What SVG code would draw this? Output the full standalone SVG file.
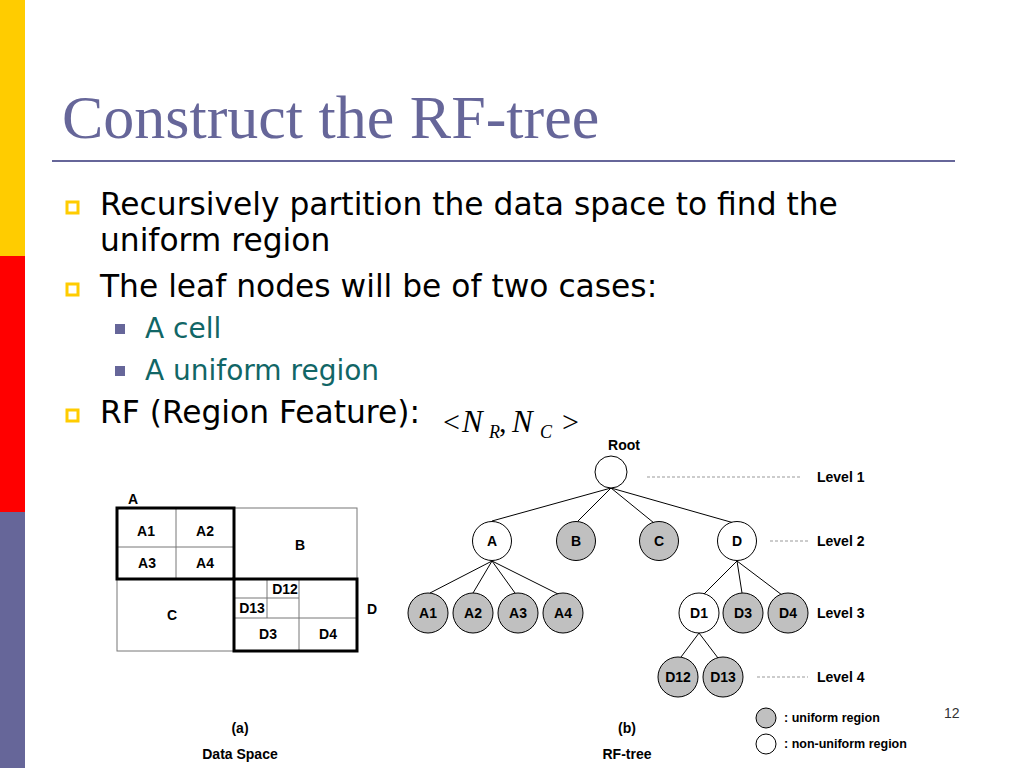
<svg xmlns="http://www.w3.org/2000/svg" width="1024" height="768" viewBox="0 0 1024 768">
<defs>
<style>
.lbl{font-family:"Liberation Sans",Arial,sans-serif;font-weight:bold;font-size:14px;fill:#000;text-anchor:middle}
.lvl{font-family:"Liberation Sans",Arial,sans-serif;font-weight:bold;font-size:14px;fill:#000}
.leg{font-family:"Liberation Sans",Arial,sans-serif;font-weight:bold;font-size:12.5px;fill:#000}
.body{font-family:"DejaVu Sans",Verdana,sans-serif;font-size:31.3px;fill:#000}
.sub{font-family:"DejaVu Sans",Verdana,sans-serif;font-size:28px;fill:#116666}
.mi{font-family:"Liberation Serif","Times New Roman",serif;font-style:italic;font-size:31px;fill:#000}
.mr{font-family:"Liberation Serif","Times New Roman",serif;font-size:30px;fill:#000}
.ms{font-family:"Liberation Serif","Times New Roman",serif;font-style:italic;font-size:18px;fill:#000}
.uni{fill:#c0c0c0;stroke:#000;stroke-width:1}
.non{fill:#fff;stroke:#000;stroke-width:1}
.thin{fill:none;stroke:#777;stroke-width:1}
.bold{fill:none;stroke:#000;stroke-width:3}
.dash{stroke:#999;stroke-width:1;stroke-dasharray:3,2}
.edge{stroke:#000;stroke-width:1}
.box{fill:none;stroke:#ffcc00;stroke-width:3}
</style>
</defs>
<rect width="1024" height="768" fill="#fff"/>
<rect x="0" y="0" width="25" height="256" fill="#ffcc00"/>
<rect x="0" y="256" width="25" height="256" fill="#ff0000"/>
<rect x="0" y="512" width="25" height="256" fill="#666699"/>

<text x="62" y="138" font-family="Liberation Serif,'Times New Roman',serif" font-size="62" fill="#666699">Construct the RF-tree</text>
<line x1="52" y1="161" x2="955" y2="161" stroke="#666699" stroke-width="2"/>

<rect x="67" y="202" width="11" height="11" class="box"/>
<text x="100" y="215" class="body">Recursively partition the data space to find the</text>
<text x="100" y="251" class="body">uniform region</text>
<rect x="67" y="284" width="11" height="11" class="box"/>
<text x="100" y="297" class="body">The leaf nodes will be of two cases:</text>
<rect x="115" y="324" width="10" height="10" fill="#666699"/>
<text x="145" y="338" class="sub">A cell</text>
<rect x="115" y="366" width="10" height="10" fill="#666699"/>
<text x="145" y="380" class="sub">A uniform region</text>
<rect x="67" y="410" width="11" height="11" class="box"/>
<text x="100" y="423" class="body">RF (Region Feature):</text>
<g id="rf-formula">
<text x="443" y="432" class="mr">&lt;</text>
<text x="462" y="432" class="mi">N</text>
<text x="489" y="438" class="ms">R</text>
<text x="499" y="432" class="mr">,</text>
<text x="512" y="432" class="mi">N</text>
<text x="540" y="438" class="ms">C</text>
<text x="562" y="432" class="mr">&gt;</text>
</g>

<g id="data-space">
<rect x="117" y="508" width="240" height="143" class="thin"/>
<line x1="176" y1="508" x2="176" y2="579" class="thin"/>
<line x1="117" y1="547" x2="234" y2="547" class="thin"/>
<line x1="299" y1="579" x2="299" y2="651" class="thin"/>
<line x1="234" y1="618" x2="357" y2="618" class="thin"/>
<line x1="267" y1="579" x2="267" y2="618" class="thin"/>
<line x1="234" y1="598" x2="299" y2="598" class="thin"/>
<rect x="117" y="508" width="117" height="71" class="bold"/>
<rect x="234" y="579" width="123" height="72" class="bold"/>
<text x="133" y="504" class="lbl">A</text>
<text x="146" y="536" class="lbl">A1</text>
<text x="205" y="536" class="lbl">A2</text>
<text x="147" y="568" class="lbl">A3</text>
<text x="205" y="568" class="lbl">A4</text>
<text x="300" y="550" class="lbl">B</text>
<text x="172" y="620" class="lbl">C</text>
<text x="372" y="614" class="lbl">D</text>
<text x="285" y="594" class="lbl">D12</text>
<text x="252" y="613" class="lbl">D13</text>
<text x="268" y="639" class="lbl">D3</text>
<text x="328" y="639" class="lbl">D4</text>
<text x="240" y="733" class="lbl">(a)</text>
<text x="240" y="759" class="lbl">Data Space</text>
</g>

<g id="connectors">
<line x1="611" y1="488" x2="492" y2="521" class="edge"/>
<line x1="611" y1="488" x2="578" y2="521" class="edge"/>
<line x1="611" y1="488" x2="654" y2="523" class="edge"/>
<line x1="611" y1="488" x2="734" y2="523" class="edge"/>
<line x1="492" y1="561" x2="430" y2="593" class="edge"/>
<line x1="492" y1="561" x2="473" y2="593" class="edge"/>
<line x1="492" y1="561" x2="515" y2="593" class="edge"/>
<line x1="492" y1="561" x2="558" y2="594" class="edge"/>
<line x1="737" y1="561" x2="704" y2="594" class="edge"/>
<line x1="737" y1="561" x2="742" y2="593" class="edge"/>
<line x1="737" y1="561" x2="782" y2="595" class="edge"/>
<line x1="699" y1="633" x2="681" y2="657" class="edge"/>
<line x1="699" y1="633" x2="718" y2="658" class="edge"/>
<line x1="647" y1="477" x2="802" y2="477" class="dash"/>
<line x1="770" y1="541" x2="808" y2="541" class="dash"/>
<line x1="757" y1="677" x2="808" y2="677" class="dash"/>
</g>

<g id="node-root"><circle cx="611" cy="472" r="16" class="non"/><text x="624" y="450" class="lbl">Root</text></g>
<g id="node-A"><circle cx="492" cy="541" r="19.5" class="non"/><text x="492" y="546" class="lbl">A</text></g>
<g id="node-B"><circle cx="576" cy="541" r="19.5" class="uni"/><text x="576" y="546" class="lbl">B</text></g>
<g id="node-C"><circle cx="659" cy="541" r="19.5" class="uni"/><text x="659" y="546" class="lbl">C</text></g>
<g id="node-D"><circle cx="737" cy="541" r="19.5" class="non"/><text x="737" y="546" class="lbl">D</text></g>
<g id="node-A1"><circle cx="428" cy="613" r="20" class="uni"/><text x="428" y="618" class="lbl">A1</text></g>
<g id="node-A2"><circle cx="473" cy="613" r="20" class="uni"/><text x="473" y="618" class="lbl">A2</text></g>
<g id="node-A3"><circle cx="518" cy="613" r="20" class="uni"/><text x="518" y="618" class="lbl">A3</text></g>
<g id="node-A4"><circle cx="563" cy="613" r="20" class="uni"/><text x="563" y="618" class="lbl">A4</text></g>
<g id="node-D1"><circle cx="699" cy="613" r="20" class="non"/><text x="699" y="618" class="lbl">D1</text></g>
<g id="node-D3"><circle cx="743" cy="613" r="20" class="uni"/><text x="743" y="618" class="lbl">D3</text></g>
<g id="node-D4"><circle cx="788" cy="613" r="20" class="uni"/><text x="788" y="618" class="lbl">D4</text></g>
<g id="node-D12"><circle cx="678" cy="677" r="20" class="uni"/><text x="678" y="682" class="lbl">D12</text></g>
<g id="node-D13"><circle cx="723" cy="677" r="20" class="uni"/><text x="723" y="682" class="lbl">D13</text></g>

<g id="levels">
<text x="817" y="482" class="lvl">Level 1</text>
<text x="817" y="546" class="lvl">Level 2</text>
<text x="817" y="618" class="lvl">Level 3</text>
<text x="817" y="682" class="lvl">Level 4</text>
</g>
<text x="627" y="733" class="lbl">(b)</text>
<text x="627" y="759" class="lbl">RF-tree</text>

<g id="legend">
<circle cx="766" cy="718" r="10" class="uni"/>
<text x="784" y="722" class="leg">: uniform region</text>
<circle cx="766" cy="744" r="10" class="non"/>
<text x="784" y="748" class="leg">: non-uniform region</text>
</g>
<text x="944" y="718" font-family="'Liberation Sans',Arial,sans-serif" font-size="14" fill="#333">12</text>
</svg>
